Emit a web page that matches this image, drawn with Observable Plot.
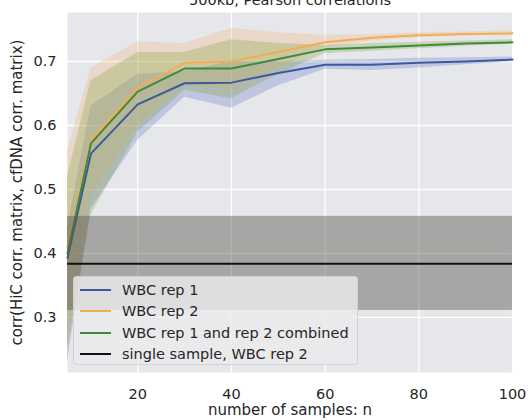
<!DOCTYPE html>
<html>
<head>
<meta charset="utf-8">
<script src="https://cdn.jsdelivr.net/npm/d3@7"></script>
<script src="https://cdn.jsdelivr.net/npm/@observablehq/plot@0.6"></script>
<style>
  html, body { margin: 0; padding: 0; background: #fff; }
  #wrap { position: relative; width: 529px; height: 420px; overflow: hidden; font-family: "DejaVu Sans", sans-serif; }
  #legend { position: absolute; left: 73px; top: 276px; width: 285px; height: 89px; box-sizing: border-box;
    background: rgba(234,234,236,0.82); border: 1px solid rgba(210,210,214,0.9); border-radius: 4px;
    font-size: 14.5px; color: #262626; padding-top: 2px; }
  .row { display: flex; align-items: center; height: 21.5px; }
  .sw { width: 31px; height: 0; border-top: 2px solid; margin-left: 6px; margin-right: 11px; }
</style>
</head>
<body>
<div id="wrap"><div id="chart"></div>
<div id="legend"></div></div>
<script>
const n = [5, 10, 20, 30, 40, 50, 60, 70, 80, 90, 100];

const rep1Mean = [0.393, 0.556, 0.633, 0.666, 0.667, 0.682, 0.695, 0.695, 0.698, 0.700, 0.703];
const rep1Lo   = [0.23, 0.47, 0.577, 0.644, 0.627, 0.662, 0.688, 0.686, 0.690, 0.695, 0.700];
const rep1Hi   = [0.44, 0.63, 0.68, 0.684, 0.70, 0.70, 0.702, 0.703, 0.705, 0.706, 0.707];

const rep2Mean = [0.41, 0.577, 0.659, 0.698, 0.700, 0.715, 0.730, 0.737, 0.741, 0.743, 0.744];
const rep2Lo   = [0.26, 0.49, 0.60, 0.665, 0.655, 0.69, 0.722, 0.732, 0.737, 0.740, 0.741];
const rep2Hi   = [0.56, 0.69, 0.731, 0.728, 0.752, 0.745, 0.741, 0.742, 0.745, 0.746, 0.748];

const combMean = [0.40, 0.572, 0.653, 0.689, 0.689, 0.704, 0.719, 0.722, 0.725, 0.728, 0.730];
const combLo   = [0.25, 0.46, 0.59, 0.655, 0.642, 0.68, 0.712, 0.716, 0.72, 0.724, 0.727];
const combHi   = [0.52, 0.67, 0.714, 0.714, 0.734, 0.728, 0.725, 0.728, 0.73, 0.732, 0.734];

const singleMean = 0.384;
const singleLo = 0.311;
const singleHi = 0.458;

const xTicks = [20, 40, 60, 80, 100];
const yTicks = [0.3, 0.4, 0.5, 0.6, 0.7];

const seriesNames = ["WBC rep 1", "WBC rep 2", "WBC rep 1 and rep 2 combined", "single sample, WBC rep 2"];
const seriesColors = ["#3a5a9c", "#f2ad55", "#3d8b3d", "#111111"];
const bandColors = ["#5a70c0", "#f0b070", "#7a9a30"];

const titleText = "500kb, Pearson correlations";
const xLabel = "number of samples: n";
const yLabel = "corr(HiC corr. matrix, cfDNA corr. matrix)";

const series = [
  {mean: rep1Mean, lo: rep1Lo, hi: rep1Hi},
  {mean: rep2Mean, lo: rep2Lo, hi: rep2Hi},
  {mean: combMean, lo: combLo, hi: combHi}
].map((s, k) => n.map((x, i) => ({n: x, mean: s.mean[i], lo: s.lo[i], hi: s.hi[i], k})));

const marks = [
  Plot.frame({fill: "#e6e7eb", stroke: null}),
  Plot.ruleX(xTicks, {stroke: "#ffffff", strokeWidth: 1.3}),
  Plot.ruleY(yTicks, {stroke: "#ffffff", strokeWidth: 1.3})
];
series.forEach((d, k) => {
  marks.push(Plot.areaY(d, {x: "n", y1: "lo", y2: "hi", fill: bandColors[k], fillOpacity: 0.27}));
});
series.forEach((d, k) => {
  marks.push(Plot.lineY(d, {x: "n", y: "mean", stroke: seriesColors[k], strokeWidth: 2}));
});
marks.push(
  Plot.rectY([{lo: singleLo, hi: singleHi}], {x1: 5, x2: 100, y1: "lo", y2: "hi", fill: "#5a5650", fillOpacity: 0.45}),
  Plot.ruleY([singleMean], {x1: 5, x2: 100, stroke: seriesColors[3], strokeWidth: 2}),
  Plot.text([titleText], {frameAnchor: "top", dy: -8, lineAnchor: "bottom", fontSize: 14.5, fill: "#262626"}),
  Plot.text([xLabel], {frameAnchor: "bottom", dy: 42, fontSize: 15, fill: "#262626"}),
  Plot.text([yLabel], {frameAnchor: "left", textAnchor: "middle", dx: -50, rotate: -90, fontSize: 15, fill: "#262626"})
);

const chart = Plot.plot({
  width: 529,
  height: 420,
  marginLeft: 67,
  marginRight: 17,
  marginTop: 12,
  marginBottom: 48,
  style: {fontFamily: "DejaVu Sans, sans-serif", fontSize: "14.5px", color: "#262626", background: "#ffffff"},
  x: {domain: [5, 100], ticks: xTicks, tickSize: 0, tickPadding: 16, label: null},
  y: {domain: [0.214, 0.7766], ticks: yTicks, tickSize: 0, tickPadding: 11, label: null, tickFormat: d3.format(".1f")},
  marks
});
document.getElementById("chart").appendChild(chart);

const leg = document.getElementById("legend");
seriesNames.forEach((name, k) => {
  const row = document.createElement("div");
  row.className = "row";
  const sw = document.createElement("span");
  sw.className = "sw";
  sw.style.borderTopColor = seriesColors[k];
  const t = document.createElement("span");
  t.textContent = name;
  row.appendChild(sw);
  row.appendChild(t);
  leg.appendChild(row);
});
</script>
</body>
</html>
